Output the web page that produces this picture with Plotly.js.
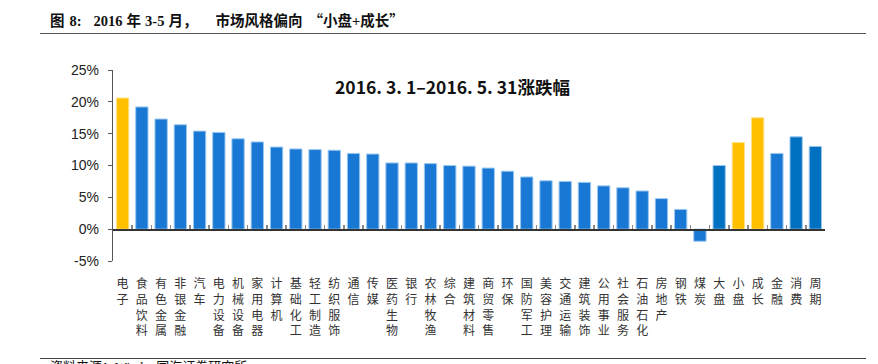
<!DOCTYPE html>
<html>
<head>
<meta charset="utf-8">
<script src="https://cdn.plot.ly/plotly-3.0.1.min.js"></script>
<style>
  html, body { margin: 0; padding: 0; background: #fff; }
  #wrap { position: relative; width: 878px; height: 364px; overflow: hidden; }
  #chart { position: absolute; left: 0; top: 0; width: 878px; height: 364px; }
  #hdr { position: absolute; left: 50px; top: 12px; line-height: 16px; font-family: "Liberation Serif", "Noto Sans CJK SC", serif; font-weight: bold; font-size: 14.5px; color: #111; white-space: nowrap; }
  #hdr span { display: inline-block; }
  .cjk { font-family: "Noto Sans CJK SC", sans-serif; }
  #hdrline { position: absolute; left: 40px; top: 33px; width: 826px; height: 0; border-top: 1.5px solid #555; }
  #ftrline { position: absolute; left: 40px; top: 358px; width: 826px; height: 0; border-top: 1px solid #444; }
  #ftr { position: absolute; left: 50px; top: 360px; line-height: 13px; font-family: "Liberation Serif", "Noto Sans CJK SC", serif; font-size: 13px; color: #111; white-space: nowrap; }
</style>
</head>
<body>
<div id="wrap">
  <div id="chart"></div>
  <div id="hdr"><span>图</span><span style="margin-left:5px">8:</span><span style="margin-left:12px">2016</span><span style="margin-left:4px">年</span><span style="margin-left:4px">3-5</span><span style="margin-left:4px">月，</span><span style="margin-left:18px">市场风格偏向</span><span style="margin-left:6px" class="cjk">“</span><span>小盘+成长</span><span class="cjk">”</span></div>
  <div id="hdrline"></div>
  <div id="ftrline"></div>
  <div id="ftr">资料来源：Wind，国海证券研究所</div>
</div>
<script>
const categories = ['电子','食品饮料','有色金属','非银金融','汽车','电力设备','机械设备','家用电器','计算机','基础化工','轻工制造','纺织服饰','通信','传媒','医药生物','银行','农林牧渔','综合','建筑材料','商贸零售','环保','国防军工','美容护理','交通运输','建筑装饰','公用事业','社会服务','石油石化','房地产','钢铁','煤炭','大盘','小盘','成长','金融','消费','周期'];
const changePct = [20.6,19.2,17.3,16.4,15.4,15.2,14.2,13.7,12.9,12.6,12.5,12.4,11.9,11.8,10.4,10.4,10.3,10.0,9.9,9.6,9.1,8.2,7.6,7.5,7.35,6.8,6.5,6.0,4.8,3.1,-1.9,10.0,13.6,17.5,11.9,14.5,13.0];
const yellowCats = ['电子','小盘','成长'];
const darkCats = ['大盘','消费','周期'];
const yTickVals = [-5,0,5,10,15,20,25];
const yTickText = ['-5%','0%','5%','10%','15%','20%','25%'];
const chartTitle = '2016. 3. 1–2016. 5. 31涨跌幅';

const BLUE = '#1878d4', DARK = '#0070c0', YELLOW = '#ffc000';
const barColors = categories.map(c => yellowCats.includes(c) ? YELLOW : (darkCats.includes(c) ? DARK : BLUE));
const lineColors = categories.map(c => yellowCats.includes(c) ? '#ffe08a' : '#9cc8f0');
const verticalText = categories.map(c => c.split('').join('<br>'));

const traces = [
  {
    type: 'bar', x: categories, y: changePct,
    marker: { color: barColors, line: { color: lineColors, width: 1 } },
    hoverinfo: 'x+y', showlegend: false
  },
  {
    type: 'bar', x: categories, y: categories.map(() => null),
    xaxis: 'x2', yaxis: 'y', showlegend: false, hoverinfo: 'skip'
  }
];

const layout = {
  width: 878, height: 364,
  margin: { l: 113, r: 53, t: 70, b: 103 },
  paper_bgcolor: 'rgba(0,0,0,0)', plot_bgcolor: 'rgba(0,0,0,0)',
  bargap: 0.36,
  showlegend: false,
  font: { family: '"Noto Sans CJK SC", "Liberation Sans", sans-serif', color: '#222' },
  xaxis: {
    type: 'category', range: [-0.5, categories.length - 0.5],
    tickmode: 'array', tickvals: categories, ticktext: verticalText,
    showline: false, showgrid: false, zeroline: false,
    ticks: 'outside', ticklen: 12, tickcolor: 'rgba(0,0,0,0)',
    tickangle: 0,
    tickfont: { family: '"Noto Sans CJK SC", serif', size: 12, color: '#333' }
  },
  xaxis2: {
    type: 'category', overlaying: 'x', anchor: 'free', position: 5 / 30,
    range: [-0.5, categories.length - 0.5],
    showline: true, linecolor: '#333', linewidth: 1.5,
    ticks: 'inside', ticklen: 4, tickcolor: '#888', tickwidth: 1.5, tickson: 'boundaries',
    showticklabels: false, showgrid: false, zeroline: false
  },
  yaxis: {
    range: [-5, 25], tickmode: 'array', tickvals: yTickVals, ticktext: yTickText,
    showline: true, linecolor: '#555', linewidth: 1.2,
    ticks: 'outside', ticklen: 4, tickcolor: '#555', ticklabelstandoff: 6,
    showgrid: false, zeroline: false,
    tickfont: { family: '"Liberation Sans", Arial, sans-serif', size: 14, color: '#222' }
  },
  annotations: [{
    text: '<b>' + chartTitle + '</b>', xref: 'paper', yref: 'paper',
    x: 0.4775, y: 0.911, xanchor: 'center', yanchor: 'middle', showarrow: false,
    font: { family: '"Noto Sans CJK SC", "Liberation Sans", sans-serif', size: 17.5, color: '#111' }
  }]
};

Plotly.newPlot('chart', traces, layout, { displayModeBar: false, staticPlot: true });
</script>
</body>
</html>
